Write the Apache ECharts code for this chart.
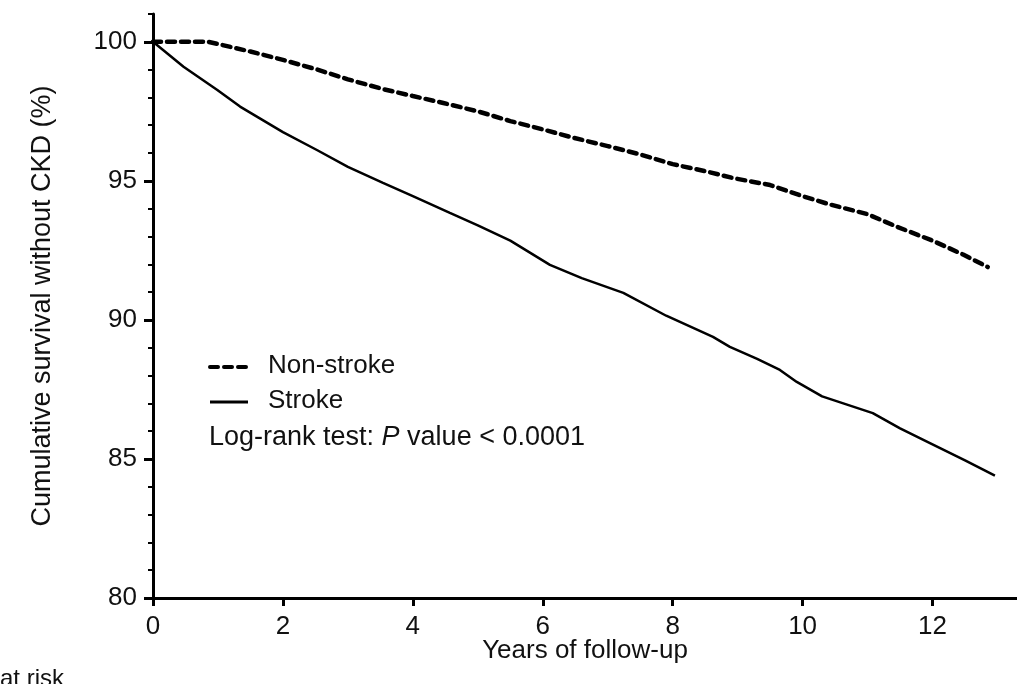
<!DOCTYPE html>
<html>
<head>
<meta charset="utf-8">
<script src="https://cdn.jsdelivr.net/npm/echarts@6/dist/echarts.min.js"></script>
<style>
  html, body { margin: 0; padding: 0; background: #fff; }
  #km { width: 1017px; height: 684px; }
</style>
</head>
<body>
<div id="km"></div>
<script>
// 数据
var nonStrokeYears = [0, 0.85, 1.5, 2.0, 2.53, 3.0, 3.54, 4.0, 4.47, 5.0, 5.5, 6.0, 6.47, 7.0, 7.5, 8.0, 8.5, 8.93, 9.5, 10.0, 10.42, 11.0, 11.45, 12.0, 12.47, 12.85];
var nonStrokeSurv  = [100, 100, 99.65, 99.35, 99.0, 98.65, 98.3, 98.05, 97.8, 97.5, 97.15, 96.85, 96.55, 96.25, 95.95, 95.6, 95.35, 95.1, 94.85, 94.45, 94.15, 93.8, 93.35, 92.85, 92.35, 91.9];

var strokeYears = [0, 0.47, 0.99, 1.34, 2.0, 2.53, 3.0, 3.54, 4.0, 4.57, 5.0, 5.5, 6.11, 6.6, 7.24, 7.9, 8.62, 8.88, 9.3, 9.65, 9.91, 10.3, 11.08, 11.5, 11.96, 12.5, 12.96];
var strokeSurv  = [100, 99.1, 98.27, 97.67, 96.75, 96.1, 95.5, 94.93, 94.45, 93.85, 93.4, 92.85, 91.98, 91.5, 90.97, 90.15, 89.39, 89.03, 88.6, 88.2, 87.77, 87.25, 86.65, 86.1, 85.57, 84.95, 84.4];

var xTicks = [0, 2, 4, 6, 8, 10, 12];
var yTicks = [80, 85, 90, 95, 100];

var pairs = function(xs, ys) {
  return xs.map(function(x, i) { return [x, ys[i]]; });
};

var kmChart = function(targetElem) {
  var myChart = echarts.init(targetElem);
  var font = 'Liberation Sans, Arial, sans-serif';

  var option = {
    animation: false,
    backgroundColor: '#fff',
    textStyle: { fontFamily: font },
    grid: { left: 153, right: 0, top: 14, bottom: 86 },
    xAxis: {
      type: 'value',
      min: 0,
      max: 13.3,
      name: 'Years of follow-up',
      nameLocation: 'middle',
      nameGap: 40,
      nameMoveOverlap: false,
      nameTextStyle: { fontSize: 26, color: '#111', fontFamily: font },
      splitLine: { show: false },
      axisLine: { lineStyle: { color: '#000', width: 3 } },
      axisTick: { customValues: xTicks, length: 8, lineStyle: { color: '#000', width: 3 } },
      axisLabel: { customValues: xTicks, margin: 16, fontSize: 26, color: '#111', fontFamily: font }
    },
    yAxis: [{
      type: 'value',
      min: 80,
      max: 101,
      name: 'Cumulative survival without CKD (%)',
      nameLocation: 'middle',
      nameGap: 97,
      nameTextStyle: { fontSize: 27, color: '#111', fontFamily: font },
      splitLine: { show: false },
      axisLine: { lineStyle: { color: '#000', width: 3 } },
      axisTick: { customValues: yTicks, length: 9, lineStyle: { color: '#000', width: 3 } },
      axisLabel: { customValues: yTicks, margin: 16, fontSize: 26, color: '#111', fontFamily: font }
    }, {
      // 小刻度
      type: 'value',
      position: 'left',
      min: 80,
      max: 101,
      interval: 1,
      splitLine: { show: false },
      axisLine: { show: false },
      axisLabel: { show: false },
      axisTick: { length: 5, lineStyle: { color: '#000', width: 2 } }
    }],
    series: [{
      name: 'Non-stroke',
      type: 'line',
      yAxisIndex: 0,
      showSymbol: false,
      data: pairs(nonStrokeYears, nonStrokeSurv),
      lineStyle: { color: '#000', width: 4.5, type: [8, 6], cap: 'round' }
    }, {
      name: 'Stroke',
      type: 'line',
      yAxisIndex: 0,
      showSymbol: false,
      data: pairs(strokeYears, strokeSurv),
      lineStyle: { color: '#000', width: 2.5 }
    }],
    graphic: [
      { type: 'line', shape: { x1: 210, y1: 367, x2: 248, y2: 367 },
        style: { stroke: '#000', lineWidth: 4, lineDash: [8, 6], lineCap: 'round' } },
      { type: 'text', left: 268, top: 353,
        style: { text: 'Non-stroke', fontSize: 26, fontFamily: font, fill: '#111' } },
      { type: 'line', shape: { x1: 210, y1: 402, x2: 248, y2: 402 },
        style: { stroke: '#000', lineWidth: 3 } },
      { type: 'text', left: 268, top: 388,
        style: { text: 'Stroke', fontSize: 26, fontFamily: font, fill: '#111' } },
      { type: 'text', left: 209, top: 424,
        style: {
          text: '{n|Log-rank test: }{i|P}{n| value < 0.0001}',
          rich: {
            n: { fontSize: 27, fontFamily: font, fill: '#111' },
            i: { fontSize: 27, fontFamily: font, fill: '#111', fontStyle: 'italic' }
          }
        } },
      { type: 'text', left: 0, top: 667,
        style: { text: 'at risk', fontSize: 24, fontFamily: font, fill: '#111' } }
    ]
  };

  myChart.setOption(option);
};

kmChart(document.querySelector('#km'));
</script>
</body>
</html>
